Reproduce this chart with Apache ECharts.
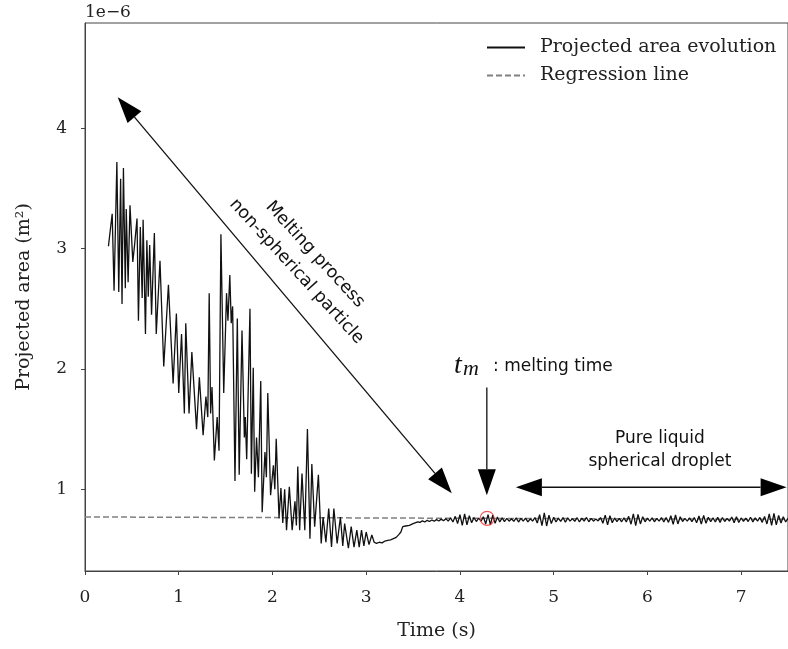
<!DOCTYPE html>
<html><head><meta charset="utf-8">
<script src="https://cdn.jsdelivr.net/npm/echarts@6/dist/echarts.min.js"></script>
<style>html,body{margin:0;padding:0;background:#fff}#c{width:788px;height:649px}</style>
</head><body><div id="c"></div>
<script>
// ---- data (area in units of 1e-6 m^2, time in s) ----
const meltSamples = [
 [0.25,3.02],[0.29,3.29],[0.31,2.65],[0.34,3.72],[0.36,2.64],[0.38,3.58],[0.395,2.54],[0.41,3.67],
 [0.43,2.67],[0.44,3.33],[0.46,2.72],[0.48,3.36],[0.51,2.89],[0.53,3.04],[0.555,3.25],[0.57,2.40],
 [0.59,3.18],[0.61,2.59],[0.62,3.24],[0.645,2.29],[0.66,3.07],[0.675,2.60],[0.69,3.03],[0.71,2.45],
 [0.74,3.13],[0.76,2.29],[0.80,2.90],[0.84,2.02],[0.89,2.70],[0.94,1.88],[0.975,2.46],[1.00,1.80],
 [1.03,2.29],[1.06,1.63],[1.075,2.38],[1.11,1.63],[1.14,2.14],[1.19,1.50],[1.22,1.93],[1.26,1.45],
 [1.29,1.77],[1.31,1.60],[1.325,2.63],[1.34,1.63],[1.355,1.85],[1.38,1.24],[1.41,1.60],[1.43,1.32],
 [1.45,3.12],[1.48,1.80],[1.51,2.63],[1.525,2.40],[1.545,2.78],[1.56,2.38],[1.575,2.52],[1.60,1.07],
 [1.625,2.42],[1.645,1.12],[1.675,2.32],[1.70,1.43],[1.71,1.60],[1.725,1.25],[1.76,2.50],[1.775,1.13],
 [1.795,2.01],[1.81,0.98],[1.83,1.43],[1.85,1.10],[1.875,1.90],[1.89,0.81],[1.92,1.31],[1.935,1.10],
 [1.95,1.80],[1.98,0.95],[2.01,1.20],[2.025,1.00],[2.04,1.42],[2.07,0.76],[2.09,1.01],[2.11,0.72],
 [2.13,1.00],[2.15,0.66],[2.18,1.02],[2.21,0.66],[2.24,0.90],[2.255,0.70],[2.27,1.19],[2.29,0.66],
 [2.315,1.13],[2.345,0.66],[2.373,1.50],[2.40,0.59],[2.42,1.21],[2.45,0.69],[2.49,1.12],[2.52,0.55],
 [2.54,0.77],[2.57,0.56],[2.60,0.84],[2.63,0.52],[2.655,0.84],[2.69,0.55],[2.725,0.77],[2.75,0.53],
 [2.77,0.715],[2.81,0.51],[2.84,0.69],[2.87,0.52],[2.90,0.66],[2.925,0.52],[2.95,0.66],[2.975,0.53],
 [3.00,0.645],[3.03,0.54],[3.06,0.62],[3.085,0.56],[3.11,0.55],[3.14,0.56],[3.17,0.555],[3.20,0.57],
 [3.23,0.575],[3.26,0.58],[3.29,0.59],[3.32,0.60],[3.35,0.625],[3.37,0.645],[3.39,0.69],[3.42,0.695],
 [3.46,0.70],[3.50,0.715],[3.55,0.73]
];
// liquid phase, sampled every 0.025 s from 3.575 s
const liquidStart = 3.575;
const liquidStep = 0.025;
const liquidArea = [
 0.725,0.738,0.728,0.742,0.732,0.745,0.735,0.748,0.737,0.752,0.738,0.756,
 0.735,0.762,0.728,0.775,0.715,0.790,0.700,0.795,0.705,0.780,0.722,0.765,
 0.732,0.760,0.735,
 0.772,0.712,0.790,0.705,0.785,0.718,0.770,0.728,0.762,
 0.732,0.758,0.735,0.755,0.733,0.762,0.728,0.758,0.735,0.760,0.730,0.755,0.736,0.765,
 0.720,0.790,0.698,0.805,0.695,0.785,0.715,
 0.768,0.728,0.760,0.733,0.765,0.726,0.762,0.735,0.756,0.733,0.764,0.728,0.760,0.735,0.766,0.730,0.758,0.735,0.754,0.737,0.765,
 0.718,0.785,0.705,0.780,0.722,
 0.762,0.732,0.758,0.730,0.762,0.728,
 0.775,0.710,0.795,0.698,0.792,0.712,0.772,
 0.730,0.760,0.735,0.762,0.730,0.758,0.735,0.765,0.728,0.766,0.725,
 0.780,0.708,0.788,0.712,0.772,
 0.732,0.758,0.735,0.762,0.730,0.765,
 0.722,0.778,0.710,0.782,0.718,0.768,
 0.730,0.762,0.728,0.768,0.725,0.765,0.732,0.758,0.735,0.770,0.722,0.772,0.725,0.762,0.733,0.760,0.732,0.768,0.728,0.762,0.735,0.766,0.725,
 0.775,0.712,0.795,0.700,0.800,0.705,0.782,
 0.720,0.772,0.728,0.760
];
const regressionTime = [0, 7.5];
const regressionArea = [0.770, 0.750];
const meltingPoint = [4.29, 0.759];
const xTicks = [0,1,2,3,4,5,6,7];
const yTicks = [1,2,3,4];
const seriesNames = ['Projected area evolution', 'Regression line'];

// annotation anchors (data coordinates)
const diagArrow = [[0.349, 4.258], [3.913, 0.967]];
const tmArrow = [[4.287, 1.845], [4.287, 0.95]];
const liquidArrow = [[4.597, 1.017], [7.485, 1.017]];
const meltTextAt = [2.355, 2.881];
const tmTextAt = [3.905, 2.03];
const liquidTextAt = [6.133, 1.33];

const mainData = meltSamples.map(p => [p[0], p[1]]).concat(
  liquidArea.map((v, i) => [+(liquidStart + i * liquidStep).toFixed(3), v]));
const regData = regressionTime.map((t, i) => [t, regressionArea[i]]);

const AX = '#444';
const serif = 'DejaVu Serif';
const chart = echarts.init(document.getElementById('c'), null, {renderer: 'canvas'});
chart.setOption({
  animation: false,
  backgroundColor: '#fff',
  grid: {left: 85, right: 0, top: 23, bottom: 78, show: true, borderColor: AX, borderWidth: 1},
  legend: {
    data: seriesNames, orient: 'vertical', left: 481, top: 33,
    itemWidth: 38, itemHeight: 14, itemGap: 9,
    itemStyle: {color: 'rgba(0,0,0,0)', borderWidth: 0, opacity: 0},
    textStyle: {fontFamily: serif, fontSize: 19, color: '#222', padding: [0, 0, 0, 10]}
  },
  xAxis: {
    type: 'value', min: 0, max: 7.5,
    axisLine: {show: true, lineStyle: {color: AX}},
    axisTick: {show: true, customValues: xTicks, length: 4, lineStyle: {color: AX}},
    axisLabel: {customValues: xTicks, fontFamily: serif, fontSize: 17, color: '#222', margin: 18},
    splitLine: {show: false},
    name: 'Time (s)', nameLocation: 'middle', nameGap: 51,
    nameTextStyle: {fontFamily: serif, fontSize: 19, color: '#222'}
  },
  yAxis: {
    type: 'value', min: 0.321, max: 4.875,
    axisLine: {show: true, lineStyle: {color: AX}},
    axisTick: {show: true, customValues: yTicks, length: 4, lineStyle: {color: AX}},
    axisLabel: {customValues: yTicks, fontFamily: serif, fontSize: 17, color: '#222', margin: 18},
    splitLine: {show: false},
    name: 'Projected area (m²)', nameLocation: 'middle', nameGap: 51,
    nameTextStyle: {fontFamily: serif, fontSize: 19, color: '#222'}
  },
  series: [
    {type: 'line', name: seriesNames[1], data: regData, symbol: 'none', z: 1, color: '#808080',
     lineStyle: {color: '#808080', width: 1.5, type: [6, 3]}},
    {type: 'line', name: seriesNames[0], data: mainData, symbol: 'none', sampling: 'none', z: 2, color: '#111',
     lineStyle: {color: '#111', width: 1.3}},
    {type: 'scatter', name: 'tm', data: [meltingPoint], symbol: 'circle', symbolSize: 14, z: 3,
     itemStyle: {color: 'rgba(0,0,0,0)', borderColor: '#ee3030', borderWidth: 1.2}}
  ]
});

function px(p) { return chart.convertToPixel({gridIndex: 0}, p); }
const L = 26, W = 9;
function head(tip, from) {
  const dx = tip[0] - from[0], dy = tip[1] - from[1];
  const d = Math.hypot(dx, dy), ux = dx / d, uy = dy / d;
  const bx = tip[0] - ux * L, by = tip[1] - uy * L;
  return {base: [bx, by], poly: {type: 'polygon', shape: {points: [tip, [bx - uy * W, by + ux * W], [bx + uy * W, by - ux * W]]}, style: {fill: '#000'}}};
}
function arrow(pts, both) {
  const a = px(pts[0]), b = px(pts[1]);
  const out = [];
  const hb = head(b, a);
  out.push(hb.poly);
  let start = a;
  if (both) { const ha = head(a, b); out.push(ha.poly); start = ha.base; }
  out.push({type: 'line', shape: {x1: start[0], y1: start[1], x2: hb.base[0], y2: hb.base[1]}, style: {stroke: '#111', lineWidth: 1.3}});
  return out;
}
const g = [];
g.push(...arrow(diagArrow, true));
g.push(...arrow(tmArrow, false));
g.push(...arrow(liquidArrow, true));
const mt = px(meltTextAt);
g.push({type: 'text', x: mt[0], y: mt[1], rotation: -47.5 * Math.PI / 180,
  style: {text: 'Melting process\nnon-spherical particle', font: '17.5px "DejaVu Sans"', align: 'center', verticalAlign: 'middle', lineHeight: 25, fill: '#111'}});
const tt = px(tmTextAt);
g.push({type: 'text', x: tt[0] + 3, y: tt[1], style: {text: 't', font: 'italic 28px "Liberation Serif"', align: 'left', verticalAlign: 'middle', fill: '#111'}});
g.push({type: 'text', x: tt[0] + 12, y: tt[1] + 4, style: {text: 'm', font: 'italic 22px "Liberation Serif"', align: 'left', verticalAlign: 'middle', fill: '#111'}});
g.push({type: 'text', x: tt[0] + 42, y: tt[1] + 1, style: {text: ': melting time', font: '17px "DejaVu Sans"', align: 'left', verticalAlign: 'middle', fill: '#111'}});
const lt = px(liquidTextAt);
g.push({type: 'text', x: lt[0], y: lt[1], style: {text: 'Pure liquid\nspherical droplet', font: '17px "DejaVu Sans"', align: 'center', verticalAlign: 'middle', lineHeight: 23, fill: '#111'}});
g.push({type: 'text', left: 85, top: 4, style: {text: '1e\u22126', font: '17px "DejaVu Serif"', fill: '#222'}});
chart.setOption({graphic: g});
</script></body></html>
